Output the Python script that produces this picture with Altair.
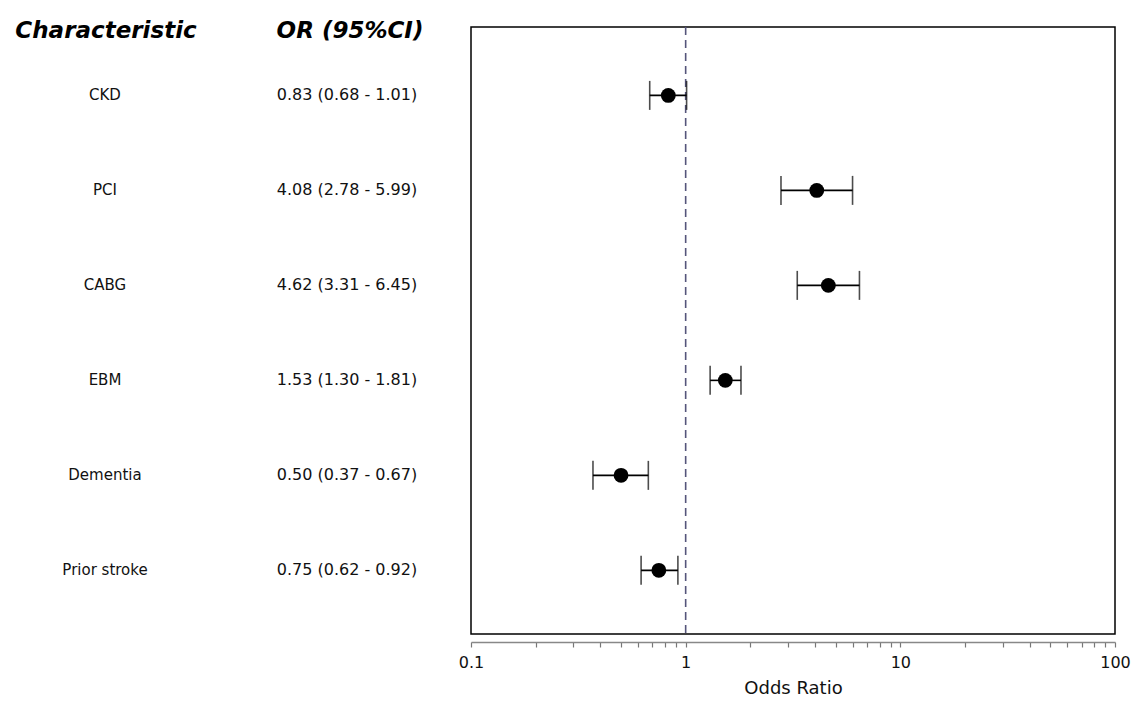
import altair as alt
import pandas as pd

characteristics = ["CKD", "PCI", "CABG", "EBM", "Dementia", "Prior stroke"]
or_values = [0.83, 4.08, 4.62, 1.53, 0.50, 0.75]
ci_low = [0.68, 2.78, 3.31, 1.30, 0.37, 0.62]
ci_high = [1.01, 5.99, 6.45, 1.81, 0.67, 0.92]
or_labels = ["0.83 (0.68 - 1.01)", "4.08 (2.78 - 5.99)", "4.62 (3.31 - 6.45)",
             "1.53 (1.30 - 1.81)", "0.50 (0.37 - 0.67)", "0.75 (0.62 - 0.92)"]
tick_values = [0.1, 0.2, 0.3, 0.4, 0.5, 0.6, 0.7, 0.8, 0.9,
               1, 2, 3, 4, 5, 6, 7, 8, 9,
               10, 20, 30, 40, 50, 60, 70, 80, 90, 100]
label_values = [0.1, 1, 10, 100]
headers = ["Characteristic", "OR (95%CI)"]
ref_value = [1]

df = pd.DataFrame({
    "row": list(range(len(characteristics))),
    "name": characteristics,
    "or": or_values,
    "lo": ci_low,
    "hi": ci_high,
    "label": or_labels,
})

FONT = "DejaVu Sans"
xscale = alt.Scale(type="log", domain=[0.1, 100], nice=False)
yscale = alt.Scale(domain=[-0.72, 5.67], reverse=True, nice=False, zero=False)

label_expr = "indexof([0.1, 1, 10, 100], datum.value) >= 0 ? format(datum.value, '~g') : ''"

base = alt.Chart(df)

xaxis = alt.Axis(
    values=tick_values, labelExpr=label_expr, title="Odds Ratio",
    offset=8, domainColor="#888888", domainWidth=1.5, tickColor="#777777",
    tickSize=5, tickWidth=1.2,
    labelFont=FONT, labelFontSize=16, labelColor="#111111", labelPadding=7,
    labelOverlap=False, grid=False, titleFont=FONT, titleFontSize=18,
    titleFontWeight="normal", titleColor="#111111", titlePadding=9,
    labelFlush=False,
)

ref = alt.Chart(pd.DataFrame({"v": ref_value})).mark_rule(
    color="#55557a", strokeDash=[8, 5], strokeWidth=1.6
).encode(x=alt.X("v:Q", scale=xscale, axis=xaxis))

bars = base.mark_rule(color="black", strokeWidth=1.6).encode(
    x=alt.X("lo:Q", scale=xscale),
    x2="hi:Q",
    y=alt.Y("row:Q", scale=yscale, axis=None),
)

cap_lo = base.mark_tick(color="black", thickness=1.6, size=29, orient="vertical").encode(
    x=alt.X("lo:Q", scale=xscale), y=alt.Y("row:Q", scale=yscale, axis=None)
)
cap_hi = base.mark_tick(color="black", thickness=1.6, size=29, orient="vertical").encode(
    x=alt.X("hi:Q", scale=xscale), y=alt.Y("row:Q", scale=yscale, axis=None)
)

points = base.mark_point(filled=True, color="black", size=220, opacity=1, shape="circle").encode(
    x=alt.X("or:Q", scale=xscale), y=alt.Y("row:Q", scale=yscale, axis=None)
)

names = base.mark_text(font=FONT, fontSize=15, color="#111111", align="center", baseline="middle").encode(
    x=alt.value(105 - 471), y=alt.Y("row:Q", scale=yscale, axis=None), text="name:N"
)
ors = base.mark_text(font=FONT, fontSize=16, color="#111111", align="center", baseline="middle").encode(
    x=alt.value(347 - 471), y=alt.Y("row:Q", scale=yscale, axis=None), text="label:N"
)

hdr_df = pd.DataFrame({"h": headers, "xpos": [106 - 471, 350 - 471]})
hdr = alt.Chart(hdr_df).mark_text(
    font=FONT, fontSize=23, fontWeight="bold", fontStyle="italic", color="black",
    align="center", baseline="middle"
).encode(x=alt.X("xpos:Q", scale=None), y=alt.value(4), text="h:N")

chart = alt.layer(ref, bars, cap_lo, cap_hi, points, names, ors, hdr).properties(
    width=644, height=607,
    autosize=alt.AutoSizeParams(type="none"),
    padding={"left": 471, "top": 27, "right": 19, "bottom": 71},
).configure(
    background="white",
    view=alt.ViewConfig(stroke="black", strokeWidth=1.5, fill="white"),
)

chart.save("out.html", embed_options={"renderer": "svg", "actions": False})
